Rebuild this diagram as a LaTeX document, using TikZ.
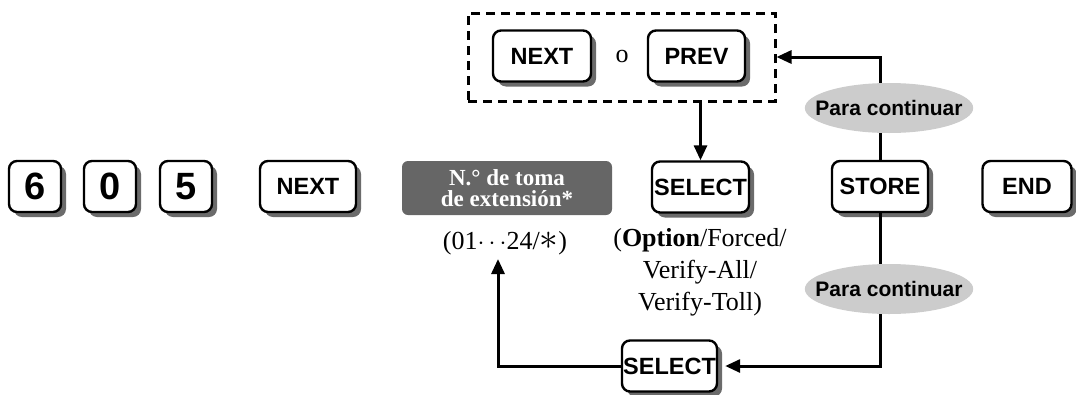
\documentclass[tikz,border=0pt]{standalone}
\usepackage{fontspec}
\setmainfont{Liberation Serif}
\setsansfont{Liberation Sans}
\usetikzlibrary{arrows.meta,shadows,shapes.geometric}
\definecolor{shadowgray}{gray}{0.42}
\definecolor{boxgray}{gray}{0.40}
\definecolor{ellgray}{gray}{0.80}
\begin{document}
\begin{tikzpicture}[x=1pt,y=-1pt,
  keybox/.style={draw,line width=2.4pt,rounded corners=8pt,fill=white,
    minimum height=51pt,inner sep=0pt,
    font=\sffamily\bfseries\fontsize{23.5}{27}\selectfont,
    drop shadow={shadow xshift=5pt,shadow yshift=-5pt,opacity=1,fill=shadowgray}},
  digitkey/.style={keybox,minimum width=52pt,font=\sffamily\bfseries\fontsize{38}{40}\selectfont},
  wordkey/.style={keybox,minimum width=96pt},
  graybox/.style={fill=boxgray,rounded corners=6pt,minimum width=210pt,minimum height=54pt,
    inner sep=0pt,align=center,text=white,font=\bfseries\fontsize{23}{21.5}\selectfont},
  pill/.style={ellipse,fill=ellgray,minimum height=50pt,inner xsep=-14pt,inner ysep=0pt,
    font=\sffamily\bfseries\fontsize{21}{22}\selectfont},
  dashbox/.style={draw,line width=3pt,dash pattern=on 9pt off 6pt,minimum width=307pt,minimum height=88pt,inner sep=0pt},
  conn/.style={line width=3pt,-{Triangle[length=15pt,width=13pt]}},
  plain/.style={font=\fontsize{26}{32}\selectfont,align=center,inner sep=0pt}
]
\useasboundingbox (0,0) rectangle (1076,394);
% top group
\node[dashbox] (grp) at (621.5,57) {};
\node[keybox,minimum width=98pt] (nexttop) at (542,56) {NEXT};
\node[plain] (o) at (622,56) {o};
\node[keybox,minimum width=97pt] (prev) at (696.5,56) {PREV};
% main row
\node[digitkey] (k6) at (35,186.5) {6};
\node[digitkey] (k0) at (110,186.5) {0};
\node[digitkey] (k5) at (186,186.5) {5};
\node[wordkey] (next) at (308,186.5) {NEXT};
\node[graybox] (ext) at (507,188) {N.° de toma\\de extensión*};
\node[wordkey,minimum width=97pt] (sel) at (700.5,187) {SELECT};
\node[wordkey] (store) at (880,186.5) {STORE};
\node[wordkey,minimum width=89pt] (end) at (1027,186.5) {END};
% texts
\node[plain] (range) at (505,243) {(01$\cdots$24/\scalebox{1.5}{$\ast$})};
\node[plain,anchor=north] (opts) at (700,228) {(\textbf{Option}/Forced/\\Verify-All/\\Verify-Toll)};
% bottom select
\node[wordkey,minimum width=95pt] (sel2) at (669.5,366) {SELECT};
\coordinate (up) at (498,259);
% connectors
\draw[conn] (store.north) |- (grp.east);
\draw[conn] (sel.north |- grp.south) -- (sel.north);
\draw[conn,shorten >=7pt] (store.south) |- (sel2.east);
\draw[conn] (sel2.west) -| (up);
% pills
\node[pill] (cont1) at (889,108) {Para continuar};
\node[pill] (cont2) at (889,289) {Para continuar};
\end{tikzpicture}
\end{document}
